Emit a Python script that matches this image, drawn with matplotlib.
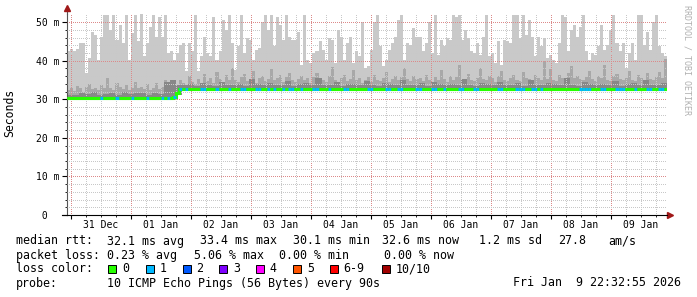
import numpy as np
import matplotlib.pyplot as plt
from matplotlib.patches import Rectangle

# smokeping detail graph, last 10 days, x in hours since 31 Dec 00:00
day_labels = ["31 Dec", "01 Jan", "02 Jan", "03 Jan", "04 Jan",
              "05 Jan", "06 Jan", "07 Jan", "08 Jan", "09 Jan"]
t_start = -1.45
t_span = 240.0

# max ping per column (ms)
light_top = [
    42.5, 43.0, 42.6, 43.0, 44.5, 44.5, 36.8, 40.6, 47.5, 46.7, 40.2, 46.2, 51.8, 51.8, 48.0, 51.8,
    45.4, 49.2, 44.5, 51.8, 40.2, 47.1, 51.8, 45.0, 52.0, 41.1, 44.5, 48.8, 51.8, 46.2, 51.4, 46.2,
    51.8, 41.9, 42.4, 40.2, 41.9,
    44.1, 44.5, 37.2, 44.5, 42.4, 51.8, 37.2, 41.1, 46.2, 41.9, 41.1, 51.4, 40.2, 42.4, 50.5, 48.0,
    51.8, 44.5, 37.6, 43.7, 51.8, 41.9, 45.8, 45.4, 40.2, 42.8, 43.2, 50.1, 51.8, 48.0, 51.8, 43.7,
    51.4, 49.2, 45.4, 51.8, 46.2, 45.4,
    45.4, 47.5, 38.9, 51.8, 40.2, 39.3, 41.9, 42.4, 45.0, 42.8, 40.2, 45.8, 45.4, 39.3, 48.0, 46.2,
    40.2, 44.5, 46.2, 39.3, 42.4, 41.1, 50.1, 38.0, 38.5, 42.8, 50.1, 51.8, 43.7, 38.5, 40.2, 42.8,
    44.5, 46.2, 50.5, 51.8, 40.2, 44.5, 44.1, 48.4, 46.2,
    46.2, 42.4, 44.5, 50.1, 41.9, 51.8, 41.5, 45.4, 43.7, 45.8, 45.4, 51.8, 51.4, 51.8, 45.4, 48.0,
    45.8, 42.4, 41.9, 44.5, 41.5, 46.2, 51.8, 41.1, 41.9, 39.3, 45.0, 38.9, 45.4, 45.0, 44.5, 51.8,
    51.8, 45.8, 51.8, 46.7, 50.5, 46.2, 41.1, 46.2, 43.7,
    45.8, 40.6, 41.5, 40.2, 39.3, 44.5, 51.8, 51.4, 42.4, 48.0, 49.2, 46.2, 48.8, 51.8, 42.4, 40.2,
    41.9, 41.5, 43.7, 49.2, 42.8, 44.1, 48.0, 51.8, 44.5, 42.4, 44.5, 38.0, 41.9, 44.5, 40.2, 51.8,
    51.8, 44.1, 47.5, 42.8, 50.1, 51.8, 43.7, 41.9, 41.1,
]

# inner smoke band top (ms)
mid_top = [
    32.5, 33.0, 32.2, 33.5, 32.8, 32.0, 33.2, 34.0, 32.6, 33.0, 32.4, 33.8, 32.9, 35.5, 33.0, 32.5,
    34.2, 33.1, 32.7, 33.6, 32.3, 33.0, 34.5, 32.8, 33.2, 32.6, 33.9, 32.4, 33.0, 34.1, 32.7, 33.3,
    35.0, 33.5, 34.0, 33.2, 33.8,
    35.0, 34.2, 33.8, 36.0, 34.5, 33.9, 35.2, 34.0, 36.5, 34.8, 35.5, 34.1, 37.0, 35.3, 34.6, 36.2,
    34.9, 38.0, 35.1, 34.4, 35.8, 36.6, 34.7, 35.0, 37.4, 34.3, 35.6, 36.0, 34.8, 35.2, 37.9, 34.9,
    35.4, 36.3, 34.5, 35.7, 36.8, 35.0,
    34.6, 35.3, 36.1, 34.9, 35.5, 34.2, 35.8, 36.7, 34.8, 35.1, 34.4, 35.9, 38.4, 35.0, 34.6, 35.4,
    36.2, 34.7, 35.3, 37.5, 34.9, 35.6, 34.3, 35.0, 35.8, 34.5, 36.4, 35.1, 34.8, 35.5, 37.1, 34.6,
    35.2, 36.0, 34.9, 35.7, 38.2, 35.3, 34.7, 35.9, 35.2,
    35.4, 34.8, 36.3, 35.1, 34.6, 35.8, 34.9, 37.6, 35.2, 34.5, 36.1, 35.0, 35.7, 39.0, 35.3, 34.8,
    36.5, 35.1, 34.7, 35.6, 38.0, 35.2, 34.9, 36.0, 35.4, 34.6, 35.9, 37.3, 35.0, 34.7, 35.5, 36.4,
    35.1, 34.8, 37.0, 35.6, 35.2, 34.9, 36.2, 35.4, 35.0,
    40.0, 35.3, 37.8, 35.1, 34.8, 36.3, 35.5, 35.0, 36.8, 38.5, 35.4, 36.1, 35.2, 34.9, 35.7, 37.2,
    35.3, 34.8, 36.0, 35.5, 38.8, 35.1, 34.7, 35.9, 36.6, 35.2, 34.9, 35.6, 37.4, 35.0, 34.8, 36.2,
    35.4, 35.1, 36.9, 35.3, 34.9, 35.8, 37.0, 35.5, 40.5,
]

# darkest band top, half resolution (ms)
dark_top = [
    31.2, 31.0, 31.5, 31.3, 31.8, 31.1, 31.4, 31.6, 31.2, 31.9, 31.3, 31.5, 31.7, 31.2, 31.6, 31.4,
    34.5, 35.0, 33.8,
    33.6, 33.9, 33.4, 34.2, 33.7, 33.5, 34.6, 33.8, 33.6, 34.0, 33.5, 35.2, 33.9, 33.7, 34.3, 33.6,
    33.8, 34.8, 33.5, 33.9, 34.1, 33.6, 35.5, 33.8, 33.7, 34.4, 33.5, 33.9, 34.0, 33.6, 34.7, 33.8,
    33.5, 34.2, 33.9, 33.6, 35.0, 33.7, 33.8, 34.1, 33.5, 34.5, 33.9, 33.6, 34.0, 33.8, 35.3, 33.7,
    33.5, 34.3, 33.9, 33.6, 34.6, 33.8, 33.7, 34.1, 33.5, 34.9, 33.8, 33.6, 34.2, 33.9, 33.7, 35.6,
    33.8, 33.5, 34.4, 33.9, 33.6, 34.0, 33.8, 34.7, 33.5, 33.9, 34.3, 33.6, 35.1, 33.8, 33.7, 34.2,
]

median = [30.3] * 35 + [30.6, 31.5] + [32.6] * 161
ping_min = [29.9] * 35 + [30.2, 31.1] + [32.2] * 161

loss_str = ("0000000000010000100001000010000101010"
            "10100001100010001000110001100101001011"
            "00100011000100001100000011000011001100001"
            "10001100100001100011000000110000111001101"
            "00000000000011110001100011100010001100110")
loss = [int(c) for c in loss_str]

loss_names = ["0", "1", "2", "3", "4", "5", "6-9", "10/10"]
loss_colors = ["#26ff00", "#00b8ff", "#0059ff", "#7e00ff", "#ff00ff", "#ff5500", "#ff0000", "#a10000"]

W, H = 697, 297
mono = "DejaVu Sans Mono"
plt.rcParams["font.family"] = mono

fig = plt.figure(figsize=(W / 100, H / 100), dpi=100)
ax = fig.add_axes([67 / W, 1 - 215 / H, 600 / W, 201 / H])

n = len(light_top)
edges = np.linspace(t_start, t_start + t_span, n + 1)

ax.stairs(light_top, edges, baseline=ping_min, fill=True, color="#c9c9c9", lw=0, zorder=1)
ax.stairs(mid_top, edges, baseline=ping_min, fill=True, color="#a8a8a8", lw=0, zorder=1.1)
ax.stairs(dark_top, edges[::2], baseline=ping_min[::2], fill=True, color="#888888", lw=0, zorder=1.2)

# median line coloured by loss
ax.stairs(median, edges, baseline=None, color=loss_colors[0], lw=2.2, zorder=3)
ax.hlines(median, edges[:-1], edges[1:], colors=[loss_colors[l] for l in loss], lw=2.2, zorder=3.1)

ax.set_xlim(t_start, t_start + t_span)
ax.set_ylim(0, 52.1)

# grid
midnights = np.arange(0, 217, 24)
six_h = [h for h in np.arange(0, 240, 6) if h % 24 != 0 and h < t_start + t_span]
ax.set_xticks(midnights)
ax.set_xticklabels([])
ax.set_xticks(six_h, minor=True)
ax.set_xticklabels([day_labels[int(h // 24)] if h % 24 == 12 else "" for h in six_h], minor=True)
ax.set_yticks(np.arange(0, 51, 10))
ax.set_yticklabels([" 0", "10 m", "20 m", "30 m", "40 m", "50 m"])
ax.set_yticks(np.arange(2, 52, 2), minor=True)

ax.set_axisbelow(False)
ax.grid(which="minor", color="#c8c8c8", lw=0.72, ls=(0, (1, 2)), antialiased=False, zorder=2)
ax.grid(which="major", color="#dc8a8a", lw=0.72, ls=(0, (1, 2)), antialiased=False, zorder=2.1)

ax.tick_params(axis="y", which="major", length=3.6, width=0.8, pad=18.7, labelsize=7, direction="out")
ax.tick_params(axis="y", which="minor", length=1.4, width=0.6, direction="out")
ax.tick_params(axis="x", which="major", length=2.9, width=0.8, direction="out")
ax.tick_params(axis="x", which="minor", length=1.4, width=0.6, pad=2.5, labelsize=7, direction="out")
for lab in ax.get_yticklabels():
    lab.set_ha("left")

for s in ["top", "right"]:
    ax.spines[s].set_visible(False)
ax.spines["left"].set_color("#555555")
ax.spines["bottom"].set_color("black")

# axis extensions and arrows
ax.plot([0, 0], [1, 1.025], transform=ax.transAxes, color="#555555", lw=0.8, clip_on=False)
ax.plot([-5 / 600, 0], [0, 0], transform=ax.transAxes, color="black", lw=0.8, clip_on=False)
ax.plot([1, 1.005], [0, 0], transform=ax.transAxes, color="black", lw=0.8, clip_on=False)
ax.plot([0], [1.03], marker="^", ms=4, color="#a01818", transform=ax.transAxes, clip_on=False)
ax.plot([1.005], [0], marker=">", ms=4, color="#a01818", transform=ax.transAxes, clip_on=False)

def px(x, y):
    return x / W, 1 - y / H

fig.text(*px(10, 113), "Seconds", rotation=90, ha="center", va="center", fontsize=8.3)
fig.text(*px(687, 5), "RRDTOOL / TOBI OETIKER", rotation=270, ha="center", va="top",
         fontsize=6, color="#b0b0b0")

fs = 8.4
rows = [
    (241, [(16, "median rtt:"), (107, "32.1 ms avg"), (200, "33.4 ms max"), (293, "30.1 ms min"),
           (381.7, "32.6 ms now"), (479, "1.2 ms sd"), (558, "27.8"), (608, "am/s")]),
    (255.5, [(16, "packet loss:"), (107, "0.23 % avg"), (194, "5.06 % max"), (279, "0.00 % min"),
             (384, "0.00 % now")]),
    (269, [(16, "loss color:")]),
    (283, [(16, "probe:"), (107, "10 ICMP Echo Pings (56 Bytes) every 90s")]),
]
for y, items in rows:
    for x, s in items:
        fig.text(*px(x, y), s, ha="left", va="center", fontsize=fs)
fig.text(*px(681, 283), "Fri Jan  9 22:32:55 2026", ha="right", va="center", fontsize=fs)

box_x = [108.3, 145.7, 182.7, 219.3, 256, 293.3, 330, 381.7]
for bx, name, c in zip(box_x, loss_names, loss_colors):
    fig.add_artist(Rectangle(px(bx, 273), 8 / W, 8 / H, transform=fig.transFigure,
                             facecolor=c, edgecolor="black", lw=0.7))
    fig.text(*px(bx + 13.5, 269), name, ha="left", va="center", fontsize=fs)

fig.savefig("out.png", dpi=100)
